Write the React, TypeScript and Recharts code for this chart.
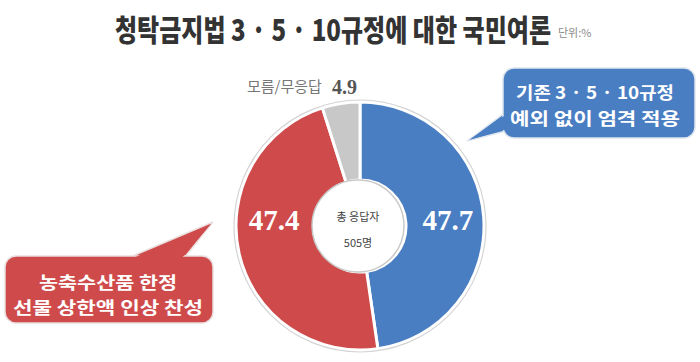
import { PieChart, Pie, Cell } from "recharts";

// values (unit: %)
const names = ["기존 규정 유지", "상한액 인상 찬성", "모름/무응답"];
const values = [47.7, 47.4, 4.9];
const colors = ["#4a7ec3", "#cf4b4b", "#c8c8c8"];
const titleText = "청탁금지법 3 · 5 · 10규정에 대한 국민여론";
const unitText = "단위:%";
const centerLines = ["총 응답자", "505명"];
const blueLines = ["기존 3 · 5 · 10규정", "예외 없이 엄격 적용"];
const redLines = ["농축수산품 한정", "선물 상한액 인상 찬성"];

const data = names.map((name, i) => ({ name, value: values[i] }));

const W = 700;
const H = 362;
const CX = 360;
const CY = 226;
const OUTER = 124;
const INNER = 46;

const RAD = Math.PI / 180;

const renderLabel = (props: any) => {
	const { cx, cy, midAngle, index, value } = props;
	if (index > 1) return null;
	const r = 88;
	const x = cx + r * Math.cos(-midAngle * RAD);
	return (
		<text
			x={x}
			y={cy - 6}
			fill="#fff"
			textAnchor="middle"
			dominantBaseline="central"
			fontFamily="'Liberation Serif', serif"
			fontWeight="bold"
			fontSize={29}
		>
			{value.toFixed(1)}
		</text>
	);
};

const App = () => {
	return (
		<div
			style={{
				position: "absolute",
				left: 0,
				top: 0,
				width: W,
				height: H,
				background: "#fff",
				overflow: "hidden",
			}}
		>
			<PieChart width={W} height={H} margin={{ top: 0, right: 0, left: 0, bottom: 0 }}>
				<Pie
					data={data}
					dataKey="value"
					cx={CX}
					cy={CY}
					outerRadius={OUTER}
					innerRadius={INNER}
					startAngle={90}
					endAngle={-270}
					stroke="#fff"
					strokeWidth={3}
					label={renderLabel}
					labelLine={false}
					isAnimationActive={false}
				>
					{data.map((d, i) => (
						<Cell key={d.name} fill={colors[i]} />
					))}
				</Pie>
			</PieChart>
			<svg
				width={W}
				height={H}
				style={{ position: "absolute", left: 0, top: 0, pointerEvents: "none" }}
				fontFamily="'Noto Sans CJK KR', sans-serif"
			>
				<circle cx={CX} cy={CY} r={OUTER + 2} fill="none" stroke="#d4d4d4" strokeWidth={1.2} />
				<circle cx={CX - 2} cy={CY} r={INNER} fill="#fff" stroke="#c9c9c9" strokeWidth={1.5} />
				<text x={CX - 2} y={216} textAnchor="middle" dominantBaseline="central" fontSize={11} fill="#444">
					{centerLines[0]}
				</text>
				<text x={CX - 2} y={242} textAnchor="middle" dominantBaseline="central" fontSize={11} fill="#444">
					{centerLines[1]}
				</text>

				{/* title, drawn condensed */}
				<text
					transform="translate(115,28) scale(1,1.35)"
					x={0}
					y={0}
					dominantBaseline="central"
					fontSize={22}
					fontWeight={900}
					fill="#333"
					textLength={436}
					lengthAdjust="spacingAndGlyphs"
				>
					{titleText}
				</text>
				<text x={558} y={32} dominantBaseline="central" fontSize={11} fill="#8a8a8a">
					{unitText}
				</text>

				{/* unknown slice label */}
				<text x={247} y={85} dominantBaseline="central" fontSize={15} fill="#777">
					{names[2]}
				</text>
				<text
					x={332}
					y={87}
					dominantBaseline="central"
					fontSize={20}
					fontWeight="bold"
					fontFamily="'Liberation Serif', serif"
					fill="#555"
				>
					{values[2].toFixed(1)}
				</text>

				{/* blue callout */}
				<path d="M506,112 L467,141 L506,131 Z" fill={colors[0]} stroke="#dfe6ee" strokeWidth={1.5} />
				<rect x={503} y={68} width={192} height={70} rx={11} fill={colors[0]} stroke="#dfe6ee" strokeWidth={1.5} />
				<path d="M507,114 L469,140 L507,129 Z" fill={colors[0]} />
				{blueLines.map((t, i) => (
					<text
						key={t}
						x={595}
						y={91 + i * 26}
						textAnchor="middle"
						dominantBaseline="central"
						fontSize={17.5}
						fontWeight={700}
						fill="#fff"
						textLength={i === 0 ? 158 : 170}
						lengthAdjust="spacingAndGlyphs"
					>
						{t}
					</text>
				))}

				{/* red callout */}
				<path d="M128,258 L213,222 L184,258 Z" fill={colors[1]} stroke="#eadede" strokeWidth={1.5} />
				<rect x={5} y={256} width={208} height={67} rx={11} fill={colors[1]} stroke="#eadede" strokeWidth={1.5} />
				<path d="M131,259 L211,224 L181,259 Z" fill={colors[1]} />
				{redLines.map((t, i) => (
					<text
						key={t}
						x={108}
						y={281 + i * 25}
						textAnchor="middle"
						dominantBaseline="central"
						fontSize={17}
						fontWeight={700}
						fill="#fff"
						textLength={i === 0 ? 138 : 190}
						lengthAdjust="spacingAndGlyphs"
					>
						{t}
					</text>
				))}
			</svg>
		</div>
	);
};

export default App;
